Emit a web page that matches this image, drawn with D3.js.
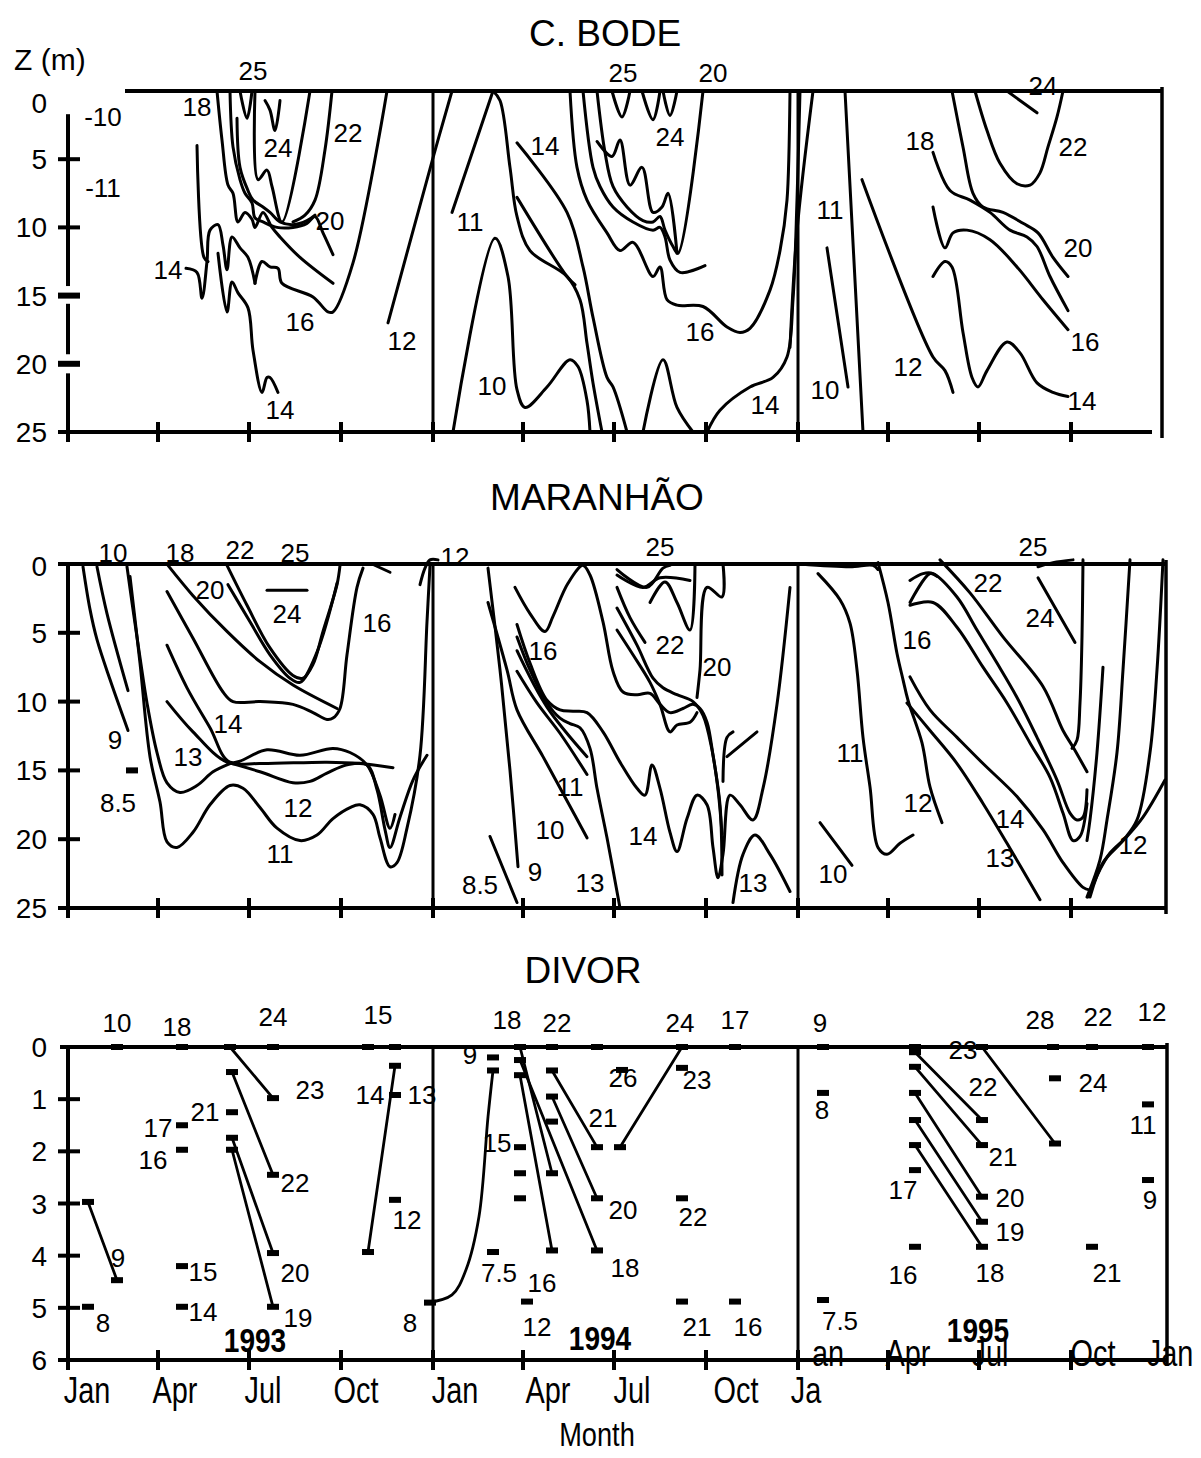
<!DOCTYPE html>
<html>
<head>
<meta charset="utf-8">
<script src="https://cdn.jsdelivr.net/npm/d3@7"></script>
<style>
  body { margin: 0; background: #fff; }
  text { font-family: "Liberation Sans", Arial, sans-serif; fill: #000; }
</style>
</head>
<body>
<svg id="chart" width="1201" height="1458"></svg>
<script>
// ---- data: [day since 1 Jan 1993, depth m] ----
var tickDays = [0, 90, 181, 273, 365, 455, 546, 638, 730, 820, 911, 1003];
var monthLabels = ["Jan", "Apr", "Jul", "Oct", "Jan", "Apr", "Jul", "Oct", "Ja"];
var monthLabelDays = [19, 107, 195, 288, 387, 480, 564, 668, 738];
var monthLabels95 = ["an", "Apr", "Jul", "Oct", "Jan"];
var monthLabelDays95 = [760, 840, 922, 1025, 1102];
var years = ["1993", "1994", "1995"];
var yearDays = [187, 532, 910];

var bode93 = [
  [[118,13.0],[129,13.3],[134,15.2],[139,12.5],[142,10.2],[150,9.8],[155,11.3],[159,13.1],[164,10.7],[172,11.5],[180,12.2],[187,14.1]],
  [[187,14.1],[194,12.5],[202,12.9],[210,13.0],[214,14.1],[245,15.1],[260,16.2],[265,16.2],[285,12.6],[319,0]],
  [[129,4.0],[136,12.2],[140,12.5]],
  [[150,11.9],[159,16.2],[164,14.0],[170,14.8],[180,15.9],[185,19.0],[194,22.1],[199,21.0],[202,21.0],[210,22.1]],
  [[149,0],[154,3.6],[160,6.9],[165,7.5],[170,9.6],[177,8.9],[184,9.4],[187,10.0],[195,8.9],[204,10.0],[212,10.7],[232,12.2],[265,14.1]],
  [[162,0],[165,4.1],[172,6.5],[177,7.5],[184,8.2],[187,9.3],[195,9.6],[209,10.0],[225,10.0],[239,9.7],[247,9.2],[255,10.4],[265,12.0]],
  [[169,2.0],[172,5.6],[180,7.3],[185,8.0],[195,8.5],[202,8.9],[212,9.6],[225,9.8],[239,9.5],[247,9.1]],
  [[187,0],[190,6.5],[199,5.8],[204,7.0],[214,9.6],[242,0]],
  [[225,9.6],[237,9.1],[247,8.0],[257,4.3],[264,0]],
  [[172,0],[179,2.0],[184,0]],
  [[197,0.7],[202,1.4],[207,2.9],[212,0.7]],
  [[320,17.0],[365,4.9],[384,0]]
];
var bode94 = [
  [[384,8.9],[425,0]],
  [[425,0],[432,0.7],[442,5.6],[449,9.2],[462,11.7],[499,13.6],[512,15.3],[519,18.5],[525,21.4],[534,25]],
  [[385,25],[427,10.8],[440,13.6],[449,21.9],[457,23.2],[479,21.7],[502,19.7],[510,20.2],[519,22.7],[522,25]],
  [[449,3.8],[499,8.9],[515,12.9],[525,16.6],[539,21.0],[545,21.7],[559,25]],
  [[449,7.8],[499,13.6],[507,14.2]],
  [[575,25],[595,19.7],[609,23.2],[625,25]],
  [[639,25],[652,23.4],[682,21.7],[705,21.0],[719,19.5],[725,15.3],[729,8.0],[732,0]],
  [[502,0],[509,5.6],[519,8.0],[539,10.4],[552,11.7],[565,11.1],[585,13.6],[592,12.9],[599,15.3],[609,15.7],[635,15.8],[659,17.3],[672,17.7],[682,17.4],[702,14.6],[712,11.7],[719,8.0],[722,0]],
  [[515,0],[525,5.6],[532,7.0],[545,8.5],[565,9.6],[585,10.2],[592,10.0],[597,10.7],[602,12.4],[612,13.3],[637,12.8]],
  [[529,0],[537,4.5],[545,7.0],[559,8.5],[575,9.5],[585,9.6],[592,9.2],[597,10.2],[605,11.4],[610,11.9],[635,0]],
  [[529,3.7],[544,4.8],[552,3.6],[562,6.9],[574,5.6],[585,8.9],[594,8.5],[600,7.5],[609,11.9]],
  [[544,0],[554,1.9],[562,0]],
  [[574,0],[585,2.1],[592,0]],
  [[595,0],[602,1.8],[609,0]]
];
var bode95 = [
  [[722,18.8],[729,10.3],[745,0]],
  [[777,0],[795,25]],
  [[759,11.5],[780,21.7]],
  [[794,6.5],[865,19.5],[877,20.5],[885,22.1]],
  [[865,13.6],[877,12.5],[884,12.9],[895,17.7],[904,21.0],[910,21.7],[919,20.5],[939,18.4],[952,19.2],[969,21.4],[985,22.1],[1000,22.4]],
  [[865,8.5],[877,11.5],[885,10.4],[899,10.2],[922,10.9],[949,12.9],[975,15.3],[1000,17.5]],
  [[865,4.5],[882,7.3],[902,8.0],[922,8.9],[942,10.2],[959,10.7],[969,11.4],[982,13.6],[1000,16.1]],
  [[884,0],[895,4.1],[905,7.5],[915,8.5],[935,8.9],[955,9.7],[970,10.4],[985,12.2],[1000,13.6]],
  [[907,0],[919,2.9],[932,5.3],[949,6.8],[962,6.9],[972,6.0],[980,4.1],[989,1.9],[995,0]],
  [[939,0],[969,1.6]]
];
var bodeLabels = [
  [185,-1.5,"25"],[129,1.2,"18"],[35,1.9,"-10"],[35,7.1,"-11"],[210,4.2,"24"],[280,3.1,"22"],[262,9.5,"20"],
  [100,13.1,"14"],[232,16.9,"16"],[334,18.3,"12"],[212,23.4,"14"],
  [555,-1.3,"25"],[645,-1.3,"20"],[477,4.0,"14"],[602,3.4,"24"],[402,9.6,"11"],[632,17.7,"16"],[424,21.6,"10"],[697,23.0,"14"],
  [852,3.7,"18"],[975,-0.4,"24"],[1005,4.1,"22"],[762,8.7,"11"],[1010,11.5,"20"],[1017,18.4,"16"],[757,21.9,"10"],[840,20.2,"12"],[1014,22.7,"14"]
];

var mar93 = [
  [[15,0.2],[22,3.3],[29,5.5],[42,8.4],[60,12.1]],
  [[29,0.2],[39,3.6],[60,9.2]],
  [[59,0.2],[64,2.8],[72,6.8],[79,10.1],[89,13.7],[99,15.9],[112,16.6],[129,16.1],[145,15.1],[162,14.5]],
  [[62,0.9],[72,7.2],[82,14.0],[92,17.3],[99,20.2],[109,20.6],[125,19.5],[142,17.5],[162,16.1],[175,16.3],[192,17.7],[209,19.2],[232,20.1],[249,19.7],[265,18.5],[282,17.7],[292,17.5],[305,18.2],[312,19.9],[322,22.0],[329,21.7],[339,19.2],[352,13.9],[359,4.2],[362,0.1]],
  [[159,14.4],[192,15.1],[225,15.9],[242,15.8],[259,15.2],[279,14.6],[299,14.6],[309,16.4],[317,19.3],[322,20.6],[332,18.4],[345,15.7],[359,13.9]],
  [[99,10.0],[125,12.2],[159,14.4],[192,14.5],[259,14.4],[292,14.5],[325,14.8]],
  [[99,5.9],[119,9.0],[142,11.9],[162,14.4],[199,13.5],[232,13.9],[265,13.4],[282,13.7],[299,14.6],[312,16.8],[322,19.2],[327,18.2]],
  [[99,2.0],[125,5.4],[155,9.3],[165,10.0],[192,10.0],[225,10.2],[245,10.8],[259,11.3],[265,11.2],[272,10.5],[279,6.6],[289,1.7],[295,0.3]],
  [[100,0.1],[125,2.3],[159,4.9],[192,7.1],[225,8.8],[269,10.5]],
  [[159,0.1],[179,3.0],[202,6.1],[225,8.1],[235,8.3],[245,7.3],[255,4.9],[269,1.5],[272,0.1]],
  [[160,1.5],[182,4.2],[202,6.6],[222,8.3],[232,8.6],[249,6.4],[269,1.4]],
  [[199,1.9],[239,1.9]],
  [[304,0],[322,0.6]],
  [[352,1.5],[357,0.3],[362,-0.3],[370,-0.3]]
];
var mar94 = [
  [[422,19.8],[449,24.6]],
  [[420,0.3],[432,7.7],[442,15.0],[450,22.0]],
  [[420,2.8],[439,7.7],[449,10.6],[475,14.0],[499,17.2],[519,19.9]],
  [[449,7.8],[469,10.1],[492,12.3],[519,15.3]],
  [[449,6.3],[479,10.4],[519,14.0]],
  [[449,5.3],[462,7.7],[479,10.1],[492,11.2],[502,11.6],[512,11.9],[522,13.4],[529,16.3],[539,19.9],[552,25]],
  [[449,4.4],[462,7.2],[479,9.9],[492,10.6],[505,10.7],[519,10.8],[535,12.2],[552,14.4],[569,16.3],[577,16.8],[584,14.6],[592,16.3],[602,19.5],[609,20.9],[619,18.5],[629,16.8],[639,17.5],[645,20.6],[650,22.8],[655,21.1],[662,16.8],[672,17.5],[685,18.6],[695,16.3],[709,10.2],[722,1.7]],
  [[447,1.7],[462,3.6],[477,4.9],[485,3.8],[500,1.4],[515,0.1],[522,0.8],[535,4.2],[545,7.8],[555,9.3],[569,9.5],[582,9.4],[592,10.2],[602,10.8],[615,10.5],[625,10.2],[632,10.5],[639,11.5],[645,13.9],[652,17.5],[654,22.6]],
  [[549,3.2],[569,5.9],[585,8.3],[595,9.0],[609,9.5],[625,10.0],[635,11.0],[644,13.5],[650,16.4],[654,19.6]],
  [[549,4.8],[565,6.6],[582,8.6],[592,10.2],[602,12.2],[609,11.7],[622,11.5],[629,10.8]],
  [[549,1.7],[562,3.9],[577,5.7]],
  [[582,2.8],[597,1.3],[609,2.8],[622,4.8],[627,0]],
  [[549,0.4],[579,1.7],[595,0.3],[602,0.1]],
  [[549,0.8],[575,1.7],[592,1.0],[622,1.2]],
  [[655,0],[654,2.4],[639,1.7],[632,7.7],[629,9.7]],
  [[655,15.8],[659,12.6],[665,12.2]],
  [[659,14.0],[689,12.2]],
  [[665,24.6],[675,21.1],[687,19.7],[702,21.1],[722,23.8]]
];
var mar95 = [
  [[732,0],[782,0.2],[805,0.1],[810,0.4]],
  [[750,0.7],[772,2.6],[782,4.3],[789,7.7],[795,12.6],[802,16.2],[810,20.6],[819,21.1],[832,20.3],[845,19.7]],
  [[752,18.8],[784,21.9]],
  [[810,-0.1],[820,2.8],[829,6.5],[835,8.4],[840,9.9],[854,13.0],[862,16.2],[874,18.8]],
  [[839,10.1],[862,12.1],[889,14.5],[915,17.4],[939,20.3],[972,24.4]],
  [[842,8.2],[862,10.6],[889,12.6],[915,14.5],[949,16.9],[975,19.3],[995,21.7],[1015,23.5],[1022,23.7]],
  [[842,3.0],[865,2.8],[889,4.6],[915,7.5],[939,10.1],[962,13.0],[982,15.5],[995,18.1],[1005,20.1],[1012,19.8],[1019,17.4]],
  [[842,1.2],[855,0.7],[865,0.7],[889,2.4],[909,4.8],[929,7.2],[949,9.7],[969,12.6],[989,15.7],[1002,18.1],[1009,18.6],[1015,18.4],[1019,16.4]],
  [[842,2.8],[862,0.7],[869,0.9]],
  [[872,-0.3],[902,2.1],[935,5.3],[975,8.9],[995,12.1],[1005,13.3],[1019,15.1]],
  [[1015,-0.3],[1014,5.3],[1012,10.1],[1009,12.8],[1004,13.4]],
  [[970,1.0],[1007,5.7]],
  [[970,0.2],[985,-0.1],[1005,-0.3]],
  [[1035,7.5],[1029,13.7],[1022,18.6],[1019,20.1]],
  [[1062,-0.3],[1055,7.7],[1049,13.7],[1039,18.6],[1032,21.5],[1019,24.2]],
  [[1095,-0.3],[1089,7.7],[1082,13.7],[1069,18.6],[1055,20.1],[1035,21.7],[1022,24.2]],
  [[1097,15.7],[1075,18.4],[1059,19.8],[1042,21.0],[1032,22.2],[1020,24.2]]
];
var marLabels = [
  [45,-0.8,"10"],[112,-0.8,"18"],[172,-1.0,"22"],[227,-0.8,"25"],[142,1.9,"20"],[219,3.6,"24"],[309,4.3,"16"],
  [47,12.8,"9"],[50,17.4,"8.5"],[160,11.6,"14"],[120,14.0,"13"],[230,17.7,"12"],[212,21.1,"11"],[387,-0.5,"12"],
  [592,-1.2,"25"],[475,6.3,"16"],[602,5.9,"22"],[649,7.5,"20"],[502,16.2,"11"],[482,19.3,"10"],[575,19.8,"14"],
  [467,22.4,"9"],[412,23.3,"8.5"],[522,23.2,"13"],[685,23.2,"13"],
  [965,-1.2,"25"],[920,1.4,"22"],[972,3.9,"24"],[849,5.5,"16"],[782,13.7,"11"],[850,17.4,"12"],[942,18.5,"14"],
  [932,21.4,"13"],[765,22.5,"10"],[1065,20.4,"12"]
];
var marMarks = [[64,15.0]];

var divorMarks = [
  [49,0],[114,0],[162,0],[205,0],[300,0],[327,0],
  [164,0.48],[205,0.98],[164,1.25],[114,1.5],[114,1.97],[164,1.74],[164,1.97],[205,2.45],[205,3.95],[205,4.98],
  [114,4.2],[114,4.98],[20,2.97],[49,4.47],[20,4.98],[300,3.93],[327,0.36],[327,0.92],[327,2.93],[362,4.9],
  [452,0],[484,0],[529,0],[614,0],[667,0],
  [425,0.2],[425,0.45],[452,0.25],[452,0.54],[484,0.45],[484,0.95],[484,1.43],[452,1.92],[452,2.42],[452,2.9],
  [484,2.42],[529,1.92],[552,1.92],[529,2.9],[529,3.9],[484,3.9],[425,3.93],[459,4.88],[554,0.44],[614,0.4],
  [614,2.9],[614,4.88],[667,4.88],
  [755,0],[847,0],[914,0],[985,0],[1024,0],[1080,0],
  [755,0.88],[755,4.85],[847,0.1],[847,0.38],[847,0.88],[847,1.4],[847,1.88],[847,2.36],[847,3.83],
  [914,1.4],[914,1.88],[914,2.87],[914,3.35],[914,3.83],[987,1.85],[987,0.6],[1024,3.83],[1080,1.1],[1080,2.55]
];
var divorLines = [
  [[162,0],[205,0.98]], [[164,0.48],[205,2.45]], [[164,1.74],[205,3.95]], [[164,1.97],[205,4.98]],
  [[20,2.97],[49,4.47]], [[300,3.93],[327,0.36]],
  [[452,0],[484,2.42]], [[484,0.95],[529,2.9]], [[452,0.25],[529,3.9]], [[452,0.54],[484,3.9]],
  [[484,0.45],[529,1.92]], [[552,1.92],[614,0]],
  [[847,0.1],[914,1.4]], [[847,0.38],[914,1.88]], [[847,0.88],[914,2.87]], [[847,1.4],[914,3.35]],
  [[847,1.88],[914,3.83]], [[914,0],[987,1.85]]
];
var divorCurve = [[425,0.45],[420,1.34],[411,3.25],[398,4.27],[384,4.75],[359,4.9]];
var divorLabels = [
  [49,-0.46,"10"],[109,-0.38,"18"],[205,-0.57,"24"],[310,-0.61,"15"],[242,0.82,"23"],[302,0.92,"14"],[354,0.92,"13"],
  [137,1.25,"21"],[90,1.55,"17"],[85,2.16,"16"],[227,2.6,"22"],[339,3.31,"12"],[50,4.04,"9"],[135,4.31,"15"],
  [227,4.33,"20"],[35,5.29,"8"],[135,5.08,"14"],[230,5.19,"19"],[342,5.29,"8"],
  [439,-0.52,"18"],[489,-0.46,"22"],[612,-0.46,"24"],[667,-0.52,"17"],[402,0.15,"9"],[555,0.59,"26"],[629,0.63,"23"],
  [535,1.36,"21"],[429,1.84,"15"],[555,3.12,"20"],[625,3.26,"22"],[557,4.23,"18"],[431,4.33,"7.5"],[474,4.52,"16"],
  [469,5.36,"12"],[629,5.36,"21"],[680,5.36,"16"],
  [752,-0.46,"9"],[972,-0.52,"28"],[1030,-0.57,"22"],[1084,-0.67,"12"],[895,0.06,"23"],[1025,0.69,"24"],[915,0.77,"22"],
  [754,1.21,"8"],[1075,1.49,"11"],[935,2.11,"21"],[835,2.74,"17"],[942,2.89,"20"],[1082,2.93,"9"],[942,3.54,"19"],
  [835,4.37,"16"],[922,4.33,"18"],[1039,4.33,"21"],[772,5.25,"7.5"]
];

// ---- drawing ----
var svg = d3.select("#chart");
var x = d3.scaleLinear().domain([0, 1095]).range([68, 1163]);

function drawPanel(p) {
  var y = d3.scaleLinear().domain([0, p.maxDepth]).range([p.top, p.bottom]);
  var g = svg.append("g");

  g.append("text").attr("x", p.titleX).attr("y", p.titleY)
    .attr("text-anchor", "middle").attr("font-size", 37).text(p.title);

  var fr = g.append("g").attr("stroke", "#000").attr("fill", "none").attr("stroke-width", 4);
  fr.append("line").attr("x1", p.topLeft).attr("x2", x(p.rightDay)).attr("y1", y(0)).attr("y2", y(0));
  fr.append("line").attr("x1", 58).attr("x2", x(p.bottomEnd)).attr("y1", y(p.maxDepth)).attr("y2", y(p.maxDepth));
  [365, 730].forEach(function (d) {
    fr.append("line").attr("x1", x(d)).attr("x2", x(d)).attr("y1", y(0) - 2).attr("y2", y(p.maxDepth) + 8)
      .attr("stroke-width", 3);
  });
  fr.append("line").attr("x1", x(p.rightDay)).attr("x2", x(p.rightDay))
    .attr("y1", y(0) - 4).attr("y2", y(p.maxDepth) + 6).attr("stroke-width", 3.5);
  p.axisSegs.forEach(function (s) {
    fr.append("line").attr("x1", x(0)).attr("x2", x(0)).attr("y1", y(s[0])).attr("y2", y(s[1]));
  });
  p.yTicks.forEach(function (t) {
    if (t === 0) return;
    fr.append("line").attr("x1", 58).attr("x2", 80).attr("y1", y(t)).attr("y2", y(t))
      .attr("stroke-width", p.heavy.indexOf(t) >= 0 ? 6 : 4);
  });
  tickDays.forEach(function (d) {
    fr.append("line").attr("x1", x(d)).attr("x2", x(d))
      .attr("y1", y(p.maxDepth) - 10).attr("y2", y(p.maxDepth) + 10);
  });

  var ax = g.append("g").attr("transform", "translate(47,0)")
    .call(d3.axisLeft(y).tickValues(p.yTicks).tickSize(0).tickPadding(0).tickFormat(d3.format("d")));
  ax.select(".domain").remove();
  ax.selectAll("text").attr("font-size", 28).attr("font-family", "Liberation Sans, Arial, sans-serif")
    .attr("fill", "#000").attr("dy", function (d) { return (d === 0 ? p.zeroDy : 0) + "px"; })
    .style("dominant-baseline", "central");

  var lineGen = d3.line().x(function (d) { return x(d[0]); }).y(function (d) { return y(d[1]); })
    .curve(p.curve);
  g.append("g").selectAll("path").data(p.lines).join("path")
    .attr("d", lineGen).attr("fill", "none").attr("stroke", "#000")
    .attr("stroke-width", p.lineWidth).attr("stroke-linejoin", "round").attr("stroke-linecap", "round");

  if (p.marks) {
    g.append("g").selectAll("rect").data(p.marks).join("rect")
      .attr("x", function (d) { return x(d[0]) - 6; }).attr("y", function (d) { return y(d[1]) - 3; })
      .attr("width", 12).attr("height", 6).attr("fill", "#000");
  }

  g.append("g").selectAll("text").data(p.labels).join("text")
    .attr("x", function (d) { return x(d[0]); }).attr("y", function (d) { return y(d[1]); })
    .attr("text-anchor", "middle").style("dominant-baseline", "central")
    .attr("font-size", 26).text(function (d) { return d[2]; });
  return y;
}

drawPanel({
  title: "C. BODE", titleX: 605, titleY: 46, top: 91, bottom: 432, maxDepth: 25,
  topLeft: 125, rightDay: 1094, bottomEnd: 1084,
  axisSegs: [[1.7, 14.3], [15.6, 19.3], [20.7, 25.4]], yTicks: [0, 5, 10, 15, 20, 25], heavy: [15, 20], zeroDy: 12,
  lines: bode93.concat(bode94, bode95), labels: bodeLabels,
  curve: d3.curveCatmullRom.alpha(0.5), lineWidth: 3
});
drawPanel({
  title: "MARANHÃO", titleX: 597, titleY: 510, top: 564, bottom: 908, maxDepth: 25,
  topLeft: 58, rightDay: 1098, bottomEnd: 1098,
  axisSegs: [[0, 25.5]], yTicks: [0, 5, 10, 15, 20, 25], heavy: [], zeroDy: 2,
  lines: mar93.concat(mar94, mar95), labels: marLabels, marks: marMarks,
  curve: d3.curveCatmullRom.alpha(0.5), lineWidth: 3
});
var yDiv = drawPanel({
  title: "DIVOR", titleX: 583, titleY: 983, top: 1047, bottom: 1360, maxDepth: 6,
  topLeft: 60, rightDay: 1099, bottomEnd: 1099,
  axisSegs: [[0, 6.1]], yTicks: [0, 1, 2, 3, 4, 5, 6], heavy: [], zeroDy: 0,
  lines: divorLines, labels: divorLabels, marks: divorMarks,
  curve: d3.curveLinear, lineWidth: 2.8
});
svg.append("path").datum(divorCurve)
  .attr("d", d3.line().x(function (d) { return x(d[0]); }).y(function (d) { return yDiv(d[1]); })
    .curve(d3.curveCatmullRom.alpha(0.5)))
  .attr("fill", "none").attr("stroke", "#000").attr("stroke-width", 2.8);

// axis titles and month labels (condensed look via horizontal scale)
function narrowText(sel, fx, fy, size, sx) {
  sel.attr("transform", function (d, i) { return "translate(" + fx(d, i) + "," + fy(d, i) + ") scale(" + sx + ",1)"; })
    .attr("text-anchor", "middle").attr("font-size", size);
}
svg.append("text").attr("x", 14).attr("y", 70).attr("font-size", 30).text("Z (m)");
narrowText(svg.append("g").selectAll("text").data(monthLabels).join("text").text(function (d) { return d; }),
  function (d, i) { return x(monthLabelDays[i]); }, function () { return 1403; }, 37, 0.78);
narrowText(svg.append("g").selectAll("text").data(monthLabels95).join("text").text(function (d) { return d; }),
  function (d, i) { return x(monthLabelDays95[i]); }, function () { return 1366; }, 37, 0.78);
narrowText(svg.append("g").selectAll("text").data(years).join("text").attr("font-weight", "bold").text(function (d) { return d; }),
  function (d, i) { return x(yearDays[i]); }, function (d, i) { return [1352, 1350, 1342][i]; }, 33, 0.85);
narrowText(svg.append("g").selectAll("text").data(["Month"]).join("text").text(function (d) { return d; }),
  function () { return 597; }, function () { return 1446; }, 34, 0.8);
</script>
</body>
</html>
